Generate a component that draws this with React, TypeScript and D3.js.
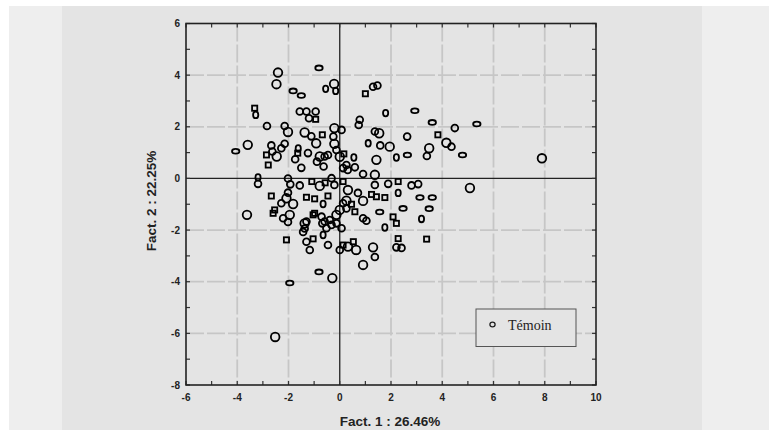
import React from 'react';
import * as d3 from 'd3';

// factor scores, [Fact. 1, Fact. 2]
const bigCircles: [number, number][] = [
  [-2.41, 4.1], [-2.47, 3.65], [-0.22, 3.66], [-2.02, 1.8], [-1.37, 1.78], [-0.92, 1.36],
  [-0.21, 1.95], [-0.21, 1.34], [1.54, 1.75], [4.16, 1.38], [1.95, 1.23], [3.49, 1.17],
  [1.43, 0.72], [7.89, 0.78], [-3.59, 1.3], [-2.46, 0.85], [-0.78, 0.85], [0.0, 0.84],
  [1.37, 0.14], [-0.78, -0.29], [0.32, -0.45], [0.91, -0.87], [5.08, -0.37], [1.3, -2.67],
  [0.91, -3.35], [0.32, -2.64], [0.64, -2.77], [-0.29, -3.86], [-2.52, -6.14], [-3.62, -1.41],
  [-1.95, -1.41], [-1.37, -1.74], [-0.13, -1.41], [-2.08, -0.77], [-1.82, -0.99], [0.26, -0.86],
  [0.0, -1.22],
];

const circles: [number, number][] = [
  [1.3, 3.55], [1.47, 3.6], [-1.56, 2.59], [-1.3, 2.59], [-0.94, 2.59], [-1.2, 2.33],
  [4.49, 1.95], [-2.84, 2.03], [-2.15, 2.03], [-1.11, 1.63], [0.07, 1.88], [-0.25, 1.62],
  [0.78, 2.27], [0.74, 2.07], [1.37, 1.82], [2.63, 1.62], [4.36, 1.23], [1.58, 1.28],
  [3.4, 0.87], [-2.67, 1.28], [-2.63, 1.04], [-2.28, 1.17], [-2.15, 1.34], [-1.74, 0.74],
  [-1.5, 0.41], [-1.24, 0.98], [-0.59, 0.85], [-0.46, 0.91], [-0.89, 0.65], [-0.63, 0.46],
  [-0.13, 1.1], [0.26, 0.52], [0.13, 0.4], [0.59, 0.43], [0.91, 0.17], [0.31, 0.33],
  [-3.19, -0.21], [-2.02, 0.0], [-1.93, -0.23], [-1.56, -0.27], [-0.32, 0.01], [-0.21, -0.25],
  [0.71, -0.56], [1.37, -0.25], [1.89, -0.21], [2.8, -0.27], [3.06, -0.22], [0.91, -1.54],
  [1.04, -1.64], [2.21, -2.67], [2.41, -2.69], [1.37, -3.04], [0.0, -2.77], [-1.3, -2.45],
  [-1.17, -2.77], [-0.46, -2.58], [-2.21, -1.54], [-2.02, -1.69], [-1.37, -1.94], [-1.43, -2.07],
  [-0.71, -1.48], [-0.68, -1.74], [-0.39, -1.61], [-0.13, -1.74], [0.07, -1.93], [-0.52, -1.93],
  [-2.02, -0.55], [-2.28, -0.96], [0.13, -0.96], [0.26, -1.16], [-0.32, -1.8], [-0.59, -1.67],
  [-1.3, -1.67],
];

const smallCircles: [number, number][] = [
  [-0.55, 3.47], [-0.16, 3.39], [-3.28, 2.46], [1.79, 2.53], [1.11, 1.36], [2.21, 0.81],
  [-1.62, 1.16], [0.55, 0.81], [-3.19, 0.04], [2.28, -0.56], [3.19, -1.57], [1.76, -1.9],
  [-0.65, -2.19], [-0.65, -0.99],
];

const ellipses: [number, number][] = [
  [-0.81, 4.28], [-1.82, 3.39], [-1.5, 3.21], [2.93, 2.62], [3.61, 2.17], [5.35, 2.11],
  [2.64, 0.91], [4.79, 0.91], [-4.06, 1.05], [3.13, -0.74], [3.61, -0.74], [2.47, -1.16],
  [3.49, -1.17], [1.56, -1.3], [-0.81, -3.62], [-1.95, -4.05],
];

const squares: [number, number][] = [
  [1.0, 3.28], [-3.32, 2.72], [-0.94, 2.29], [-0.68, 1.69], [3.83, 1.69], [-2.86, 0.91],
  [-2.79, 0.52], [-1.64, 0.98], [0.16, 0.95], [-1.09, -0.12], [-0.57, -0.17], [0.13, -0.12],
  [1.24, -0.62], [1.43, -0.71], [1.76, -0.74], [2.28, -0.12], [2.08, -1.49], [2.21, -1.74],
  [2.28, -2.33], [3.39, -2.35], [0.13, -2.58], [0.53, -2.45], [-2.08, -2.38], [-1.04, -2.34],
  [-2.6, -1.35], [-2.54, -1.22], [-1.04, -1.41], [-2.67, -0.68], [-1.3, -0.73], [-0.98, -0.79],
  [-0.46, -0.68], [0.46, -1.0], [0.59, -1.29], [-0.98, -1.35],
];

const xDomain: [number, number] = [-6, 10];
const yDomain: [number, number] = [-8, 6];
const xTickLabels = [-6, -4, -2, 0, 2, 4, 6, 8, 10];
const yTickLabels = [6, 4, 2, 0, -2, -4, -6, -8];
const xTitle = 'Fact. 1 : 26.46%';
const yTitle = 'Fact. 2 : 22.25%';
const legendLabel = 'Témoin';

const W = 769;
const H = 430;
const plot = { left: 186, right: 596, top: 23.5, bottom: 385 };

const App = () => {
  const x = d3.scaleLinear().domain(xDomain).range([plot.left, plot.right]);
  const y = d3.scaleLinear().domain(yDomain).range([plot.bottom, plot.top]);
  const minorX = d3.range(xDomain[0], xDomain[1] + 1);
  const minorY = d3.range(yDomain[0], yDomain[1] + 1);
  const gridX = xTickLabels.filter(v => v !== 0 && v !== xDomain[0] && v !== xDomain[1]);
  const gridY = yTickLabels.filter(v => v !== 0 && v !== yDomain[0] && v !== yDomain[1]);
  const font = 'Arial, "Liberation Sans", sans-serif';
  const mk = { fill: 'none', stroke: '#000', strokeWidth: 1.8 };

  return (
    <div>
      <style>{'body{margin:0}'}</style>
      <svg width={W} height={H} style={{ display: 'block' }}>
        <rect x={0} y={0} width={W} height={H} fill="#fff" />
        <rect x={9} y={6} width={53} height={H - 6} fill="#eeeeee" />
        <rect x={62} y={6} width={640} height={H - 6} fill="#e4e4e4" />
        <rect x={702} y={6} width={W - 702} height={H - 6} fill="#eeeeee" />

        {/* grid */}
        {gridX.map(v => (
          <line key={'gx' + v} x1={x(v)} x2={x(v)} y1={plot.top} y2={plot.bottom}
            stroke="#c6c6c6" strokeWidth={1.8} strokeDasharray="18,3" />
        ))}
        {gridY.map(v => (
          <line key={'gy' + v} x1={plot.left} x2={plot.right} y1={y(v)} y2={y(v)}
            stroke="#c6c6c6" strokeWidth={1.8} strokeDasharray="18,3" />
        ))}
        <line x1={x(0)} x2={x(0)} y1={plot.top} y2={plot.bottom} stroke="#222" strokeWidth={1.3} />
        <line x1={plot.left} x2={plot.right} y1={y(0)} y2={y(0)} stroke="#222" strokeWidth={1.3} />

        {/* minor ticks, inward */}
        {minorX.map(v => (
          <g key={'tx' + v}>
            <line x1={x(v)} x2={x(v)} y1={plot.top} y2={plot.top + 4} stroke="#333" strokeWidth={1.2} />
            <line x1={x(v)} x2={x(v)} y1={plot.bottom} y2={plot.bottom - 4} stroke="#333" strokeWidth={1.2} />
          </g>
        ))}
        {minorY.map(v => (
          <g key={'ty' + v}>
            <line x1={plot.left} x2={plot.left + 4} y1={y(v)} y2={y(v)} stroke="#333" strokeWidth={1.2} />
            <line x1={plot.right} x2={plot.right - 4} y1={y(v)} y2={y(v)} stroke="#333" strokeWidth={1.2} />
          </g>
        ))}

        {/* points */}
        {bigCircles.map((d, i) => (
          <circle key={'b' + i} cx={x(d[0])} cy={y(d[1])} r={4.3} {...mk} />
        ))}
        {circles.map((d, i) => (
          <circle key={'c' + i} cx={x(d[0])} cy={y(d[1])} r={3.4} {...mk} />
        ))}
        {smallCircles.map((d, i) => (
          <ellipse key={'s' + i} cx={x(d[0])} cy={y(d[1])} rx={2.6} ry={3.3} {...mk} />
        ))}
        {ellipses.map((d, i) => (
          <ellipse key={'e' + i} cx={x(d[0])} cy={y(d[1])} rx={3.7} ry={2.4} {...mk} />
        ))}
        {squares.map((d, i) => (
          <rect key={'q' + i} x={x(d[0]) - 2.6} y={y(d[1]) - 2.6} width={5.2} height={5.2} {...mk} />
        ))}

        {/* frame */}
        <rect x={plot.left} y={plot.top} width={plot.right - plot.left} height={plot.bottom - plot.top}
          fill="none" stroke="#222" strokeWidth={1.6} />

        {/* tick labels */}
        {yTickLabels.map(v => (
          <text key={'ly' + v} x={plot.left - 6} y={y(v)} dy="0.35em" textAnchor="end"
            fontFamily={font} fontWeight="bold" fontSize={10} fill="#222">{v}</text>
        ))}
        {xTickLabels.map(v => (
          <text key={'lx' + v} x={x(v)} y={plot.bottom + 16} textAnchor="middle"
            fontFamily={font} fontWeight="bold" fontSize={10} fill="#222">{v}</text>
        ))}

        <text x={390} y={426} textAnchor="middle" fontFamily={font} fontWeight="bold"
          fontSize={13.5} fill="#222">{xTitle}</text>
        <text transform="translate(156,201) rotate(-90)" textAnchor="middle" fontFamily={font}
          fontWeight="bold" fontSize={13.5} fill="#222">{yTitle}</text>

        {/* legend */}
        <rect x={476} y={309} width={100} height={37.5} fill="#e4e4e4" stroke="#555" strokeWidth={1} />
        <ellipse cx={492.5} cy={324.5} rx={2.6} ry={2.4} fill="none" stroke="#222" strokeWidth={1.3} />
        <text x={508} y={330} fontFamily='"Liberation Serif", "Times New Roman", serif' fontSize={14}
          fill="#222">{legendLabel}</text>
      </svg>
    </div>
  );
};

export default App;
